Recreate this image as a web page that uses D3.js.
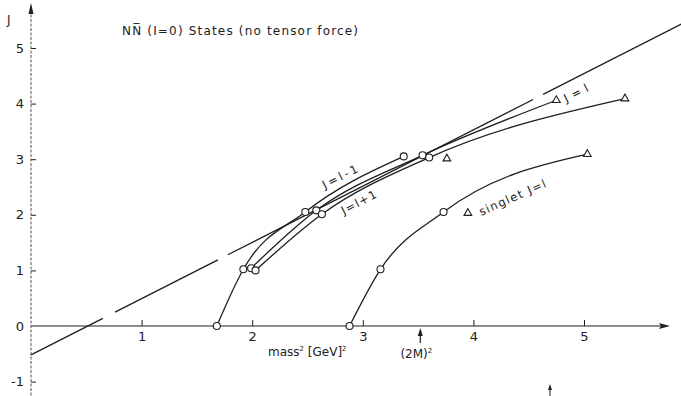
<!DOCTYPE html>
<html>
<head>
<meta charset="utf-8">
<script src="https://cdn.jsdelivr.net/npm/d3@7"></script>
<style>
  html, body { margin: 0; padding: 0; background: #fff; }
  svg { display: block; }
  text { font-family: "DejaVu Sans", "Liberation Sans", sans-serif; fill: #222; }
</style>
</head>
<body>
<svg id="chart" width="681" height="396"></svg>
<script>
// Regge-type trajectories of N-Nbar (I=0) states: J versus mass^2 [GeV^2]
const xTicks = [1, 2, 3, 4, 5];
const yTicks = [-1, 0, 1, 2, 3, 4, 5];

// J = l-1 trajectory
const lMinus1M2 = [1.68, 1.92, 2.48, 3.37];
const lMinus1J  = [0.00, 1.02, 2.05, 3.05];
// J = l trajectory
const lEqM2 = [1.99, 2.58, 3.54, 4.75];
const lEqJ  = [1.04, 2.08, 3.07, 4.06];
// J = l+1 trajectory
const lPlus1M2 = [2.03, 2.63, 3.60, 5.37];
const lPlus1J  = [1.00, 2.01, 3.03, 4.09];
// singlet J = l trajectory
const singletM2 = [2.88, 3.16, 3.73, 5.03];
const singletJ  = [0.00, 1.02, 2.05, 3.09];
// isolated triangle states
const extraM2 = [3.76, 3.95];
const extraJ  = [3.01, 2.03];

// straight reference trajectory: end points and gaps of its long dashes
const refLineM2 = [0, 5.88];
const refLineJ  = [-0.52, 5.43];
const refDashM2 = [[0, 0.65], [0.76, 1.69], [1.78, 4.54], [4.63, 5.88]];

// threshold (2M)^2
const thresholdM2 = 3.52;

const svg = d3.select("#chart");
const x = d3.scaleLinear().domain([0, 5]).range([31, 584]);
const y = d3.scaleLinear().domain([0, 5]).range([326, 48]);
const ink = "#1e1e1e";

svg.append("rect").attr("width", 681).attr("height", 396).attr("fill", "#fff");

// axes
const xAxisG = svg.append("g").attr("transform", `translate(0,${y(0)})`)
  .call(d3.axisBottom(x).tickValues(xTicks).tickSize(-6).tickPadding(6).tickFormat(d => String(d)));
const yAxisG = svg.append("g").attr("transform", `translate(${x(0)},0)`)
  .call(d3.axisLeft(y).tickValues(yTicks).tickSize(-5).tickPadding(7).tickFormat(d => String(d)));
[xAxisG, yAxisG].forEach(g => {
  g.select(".domain").remove();
  g.selectAll(".tick line").attr("stroke", ink).attr("stroke-width", 1);
  g.selectAll(".tick text").attr("font-size", 13).attr("fill", ink)
    .style("font-family", "'DejaVu Sans', sans-serif");
});
yAxisG.selectAll(".tick").filter(d => d === 0).select("line").remove();

// axis lines with arrow heads
svg.append("line").attr("x1", x(0)).attr("x2", 664).attr("y1", y(0)).attr("y2", y(0))
  .attr("stroke", ink).attr("stroke-width", 1.1);
svg.append("path").attr("d", `M670,${y(0)} L659,${y(0) - 3} L661,${y(0)} L659,${y(0) + 3} Z`).attr("fill", ink);
svg.append("line").attr("x1", x(0)).attr("x2", x(0)).attr("y1", 10).attr("y2", 396)
  .attr("stroke", "#555").attr("stroke-width", 1).attr("stroke-dasharray", "3,1.5");
svg.append("path").attr("d", `M${x(0)},3 L${x(0) - 2.5},14 L${x(0) + 2.5},14 Z`).attr("fill", ink);

// axis titles
svg.append("text").attr("x", 7).attr("y", 24).attr("font-size", 12).text("J");
svg.append("text").attr("x", 268).attr("y", 356).attr("font-size", 12)
  .html('mass<tspan dy="-5" font-size="7">2</tspan><tspan dy="5"> [GeV]</tspan><tspan dy="-5" font-size="7">2</tspan>');

// threshold arrow
const tx = x(thresholdM2);
svg.append("line").attr("x1", tx).attr("x2", tx).attr("y1", 343).attr("y2", 334)
  .attr("stroke", ink).attr("stroke-width", 1.2);
svg.append("path").attr("d", `M${tx},${y(0) + 2} L${tx - 2.5},336 L${tx + 2.5},336 Z`).attr("fill", ink);
svg.append("text").attr("x", tx - 4).attr("y", 358).attr("text-anchor", "middle").attr("font-size", 12)
  .html('(2M)<tspan dy="-5" font-size="7">2</tspan>');

// small mark near the bottom edge
svg.append("line").attr("x1", 550).attr("x2", 550).attr("y1", 388).attr("y2", 396)
  .attr("stroke", ink).attr("stroke-width", 1);
svg.append("path").attr("d", "M550,384 L548,390 L552,390 Z").attr("fill", ink);

// title
svg.append("text").attr("x", 122).attr("y", 35).attr("font-size", 12)
  .attr("textLength", 236).attr("lengthAdjust", "spacing")
  .text("N\u004E\u0305 (I=0) States (no tensor force)");

// straight reference trajectory drawn as long dashes
const refJ = m => refLineJ[0] + (refLineJ[1] - refLineJ[0]) * (m - refLineM2[0]) / (refLineM2[1] - refLineM2[0]);
svg.append("g").selectAll("line").data(refDashM2).join("line")
  .attr("x1", d => x(d[0])).attr("y1", d => y(refJ(d[0])))
  .attr("x2", d => x(d[1])).attr("y2", d => y(refJ(d[1])))
  .attr("stroke", ink).attr("stroke-width", 1.3);

// trajectories
const line = d3.line().x(d => x(d[0])).y(d => y(d[1])).curve(d3.curveMonotoneX);
const series = [
  { m: lMinus1M2, j: lMinus1J, tri: [] },
  { m: lEqM2, j: lEqJ, tri: [3] },
  { m: lPlus1M2, j: lPlus1J, tri: [3] },
  { m: singletM2, j: singletJ, tri: [3] }
];
series.forEach(s => {
  const pts = s.m.map((m, i) => [m, s.j[i]]);
  svg.append("path").datum(pts).attr("d", line)
    .attr("fill", "none").attr("stroke", ink).attr("stroke-width", 1.3);
});

// markers
const tri = d3.symbol().type(d3.symbolTriangle).size(26);
series.forEach(s => {
  s.m.forEach((m, i) => {
    if (s.tri.includes(i)) {
      svg.append("path").attr("d", tri).attr("transform", `translate(${x(m)},${y(s.j[i])})`)
        .attr("fill", "#fff").attr("stroke", ink).attr("stroke-width", 1.1);
    } else {
      svg.append("circle").attr("cx", x(m)).attr("cy", y(s.j[i])).attr("r", 3.5)
        .attr("fill", "#fff").attr("stroke", ink).attr("stroke-width", 1.1);
    }
  });
});
extraM2.forEach((m, i) => {
  svg.append("path").attr("d", tri).attr("transform", `translate(${x(m)},${y(extraJ[i])})`)
    .attr("fill", "#fff").attr("stroke", ink).attr("stroke-width", 1.1);
});

// curve labels
const labels = [
  { t: "J=l-1", m: 2.81, j: 2.62, r: -27, len: 38 },
  { t: "J=l+1", m: 2.98, j: 2.16, r: -28, len: 38 },
  { t: "J=l", m: 4.84, j: 4.02, r: -27, len: 26 },
  { t: "singlet J=l", m: 4.07, j: 1.98, r: -24, len: 72 }
];
svg.append("g").selectAll("text").data(labels).join("text")
  .attr("transform", d => `translate(${x(d.m)},${y(d.j)}) rotate(${d.r})`)
  .attr("text-anchor", (d, i) => i < 2 ? "middle" : "start")
  .attr("font-size", 11.5)
  .attr("textLength", d => d.len).attr("lengthAdjust", "spacing")
  .text(d => d.t);
</script>
</body>
</html>
